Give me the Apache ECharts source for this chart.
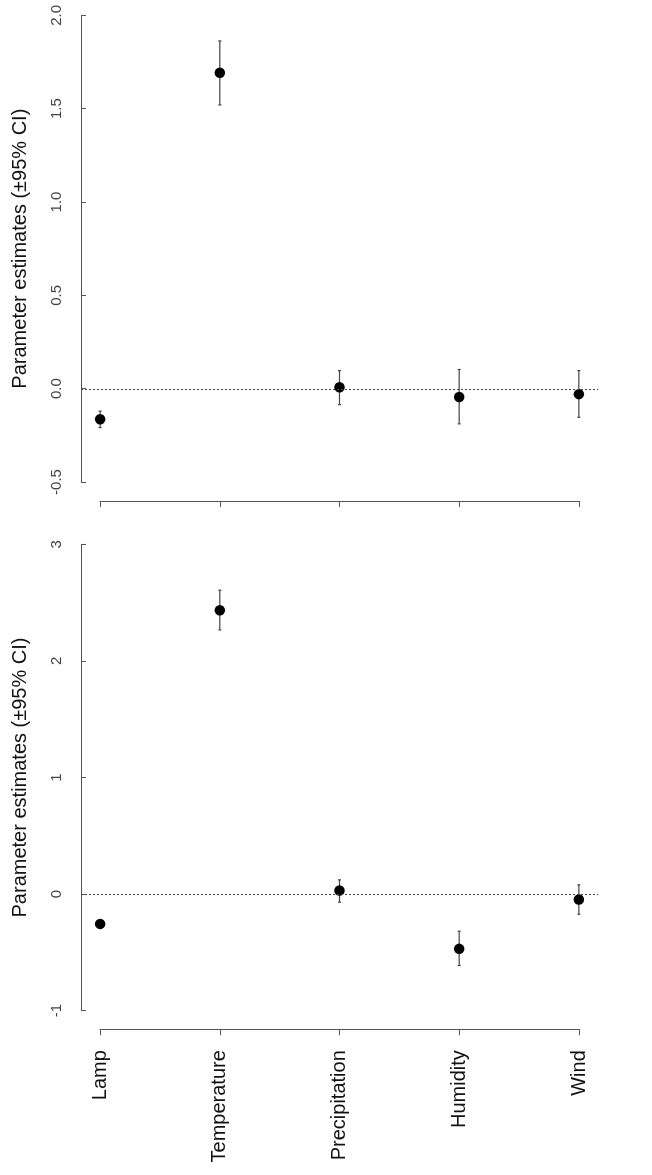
<!DOCTYPE html>
<html>
<head>
<meta charset="utf-8">
<script src="https://cdn.jsdelivr.net/npm/echarts@6/dist/echarts.min.js"></script>
<style>
html,body{margin:0;padding:0;background:#fff;}
#chart{width:652px;height:1175px;}
</style>
</head>
<body>
<div id="chart"></div>
<script>
const categories = ['Lamp', 'Temperature', 'Precipitation', 'Humidity', 'Wind'];
const topEst  = [-0.162, 1.692, 0.009, -0.043, -0.028];
const topLow  = [-0.207, 1.520, -0.084, -0.187, -0.152];
const topHigh = [-0.119, 1.863, 0.098, 0.104, 0.098];
const botEst  = [-0.256, 2.434, 0.030, -0.470, -0.047];
const botLow  = [-0.293, 2.266, -0.070, -0.613, -0.173];
const botHigh = [-0.219, 2.606, 0.122, -0.319, 0.079];
const topYTicks = { min: -0.5, max: 2.0, step: 0.5 };
const botYTicks = { min: -1, max: 3, step: 1 };
const yTitle = 'Parameter estimates (\u00b195% CI)';

const FONT = 'Liberation Sans, Arial, Helvetica, sans-serif';
const AX = '#555';

const chart = echarts.init(document.getElementById('chart'), null, {renderer: 'canvas'});

function errRender(params, api) {
  const x = api.value(0);
  const p1 = api.coord([x, api.value(1)]);
  const p2 = api.coord([x, api.value(2)]);
  const c = 1.5;
  const st = {stroke: '#444', lineWidth: 1.2};
  return {
    type: 'group',
    children: [
      {type: 'line', shape: {x1: p1[0], y1: p1[1], x2: p2[0], y2: p2[1]}, style: st},
      {type: 'line', shape: {x1: p1[0] - c, y1: p1[1], x2: p1[0] + c, y2: p1[1]}, style: st},
      {type: 'line', shape: {x1: p2[0] - c, y1: p2[1], x2: p2[0] + c, y2: p2[1]}, style: st}
    ]
  };
}

function dataY(t) { // data grid extends 4% below last tick (R style)
  return {type: 'value', show: false, min: t.min - 0.04 * (t.max - t.min), max: t.max};
}

function yAxisShown(grid, t, fmt) {
  return {type: 'value', gridIndex: grid, min: t.min, max: t.max, interval: t.step,
    offset: 19, position: 'left',
    name: yTitle, nameLocation: 'middle', nameRotate: 90, nameGap: 51,
    nameTextStyle: {fontSize: 20, color: '#111', fontFamily: FONT},
    axisLine: {show: true, onZero: false, lineStyle: {color: AX, width: 1}},
    axisTick: {show: true, inside: true, length: 5, lineStyle: {color: AX}},
    axisLabel: {rotate: 90, margin: 17, fontSize: 15, color: '#444', fontFamily: FONT, formatter: fmt},
    splitLine: {show: false}};
}

function xAxisShown(grid, off, labels) {
  return {type: 'value', gridIndex: grid, min: 1, max: 5, interval: 1, offset: off, position: 'bottom',
    axisLine: {show: true, onZero: false, lineStyle: {color: AX, width: 1}},
    axisTick: {show: true, length: 6, lineStyle: {color: AX}},
    axisLabel: {show: labels, rotate: 90, margin: 21, fontSize: 20, color: '#111', fontFamily: FONT,
      formatter: v => categories[Math.round(v) - 1] || ''},
    splitLine: {show: false}};
}

const option = {
  animation: false,
  backgroundColor: '#fff',
  textStyle: {fontFamily: FONT},
  grid: [
    {left: 81, width: 517, top: 15.3, height: 485.7},
    {left: 100, width: 479, top: 15.3, height: 466.7},
    {left: 81, width: 517, top: 544.3, height: 485},
    {left: 100, width: 479, top: 544.3, height: 466.4}
  ],
  xAxis: [
    {type: 'value', gridIndex: 0, show: false, min: 0.84, max: 5.16},
    xAxisShown(1, 19, false),
    {type: 'value', gridIndex: 2, show: false, min: 0.84, max: 5.16},
    xAxisShown(3, 18.5, true)
  ],
  yAxis: [
    Object.assign(dataY(topYTicks), {gridIndex: 0}),
    yAxisShown(1, topYTicks, v => v.toFixed(1)),
    Object.assign(dataY(botYTicks), {gridIndex: 2}),
    yAxisShown(3, botYTicks, v => String(Math.round(v)))
  ],
  series: [
    {type: 'custom', xAxisIndex: 0, yAxisIndex: 0, renderItem: errRender,
     data: topEst.map((v, i) => [i + 1, topLow[i], topHigh[i]]), encode: {x: 0, y: [1, 2]}, z: 2,
     markLine: {silent: true, symbol: 'none', label: {show: false},
       lineStyle: {type: [2, 2], color: '#444', width: 1}, data: [{yAxis: 0}]}},
    {type: 'scatter', xAxisIndex: 0, yAxisIndex: 0, symbol: 'circle', symbolSize: 10.5,
     itemStyle: {color: '#000', opacity: 1}, data: topEst.map((v, i) => [i + 1, v]), z: 3},
    {type: 'custom', xAxisIndex: 2, yAxisIndex: 2, renderItem: errRender,
     data: botEst.map((v, i) => [i + 1, botLow[i], botHigh[i]]), encode: {x: 0, y: [1, 2]}, z: 2,
     markLine: {silent: true, symbol: 'none', label: {show: false},
       lineStyle: {type: [2, 2], color: '#444', width: 1}, data: [{yAxis: 0}]}},
    {type: 'scatter', xAxisIndex: 2, yAxisIndex: 2, symbol: 'circle', symbolSize: 10.5,
     itemStyle: {color: '#000', opacity: 1}, data: botEst.map((v, i) => [i + 1, v]), z: 3}
  ]
};
chart.setOption(option);
</script>
</body>
</html>
